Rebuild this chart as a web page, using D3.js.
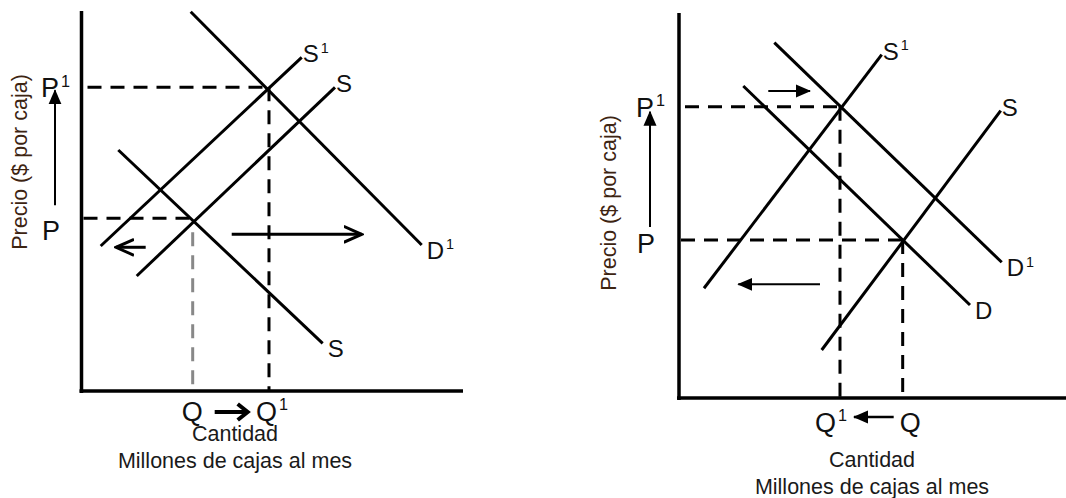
<!DOCTYPE html>
<html>
<head>
<meta charset="utf-8">
<script src="https://cdn.jsdelivr.net/npm/d3@7"></script>
<style>
  body { margin: 0; background: #fff; }
  svg { display: block; font-family: "Liberation Sans", Arial, sans-serif; }
</style>
</head>
<body>
<svg id="chart" width="1066" height="498"></svg>
<script>
// ---- left panel: supply falls, demand rises ----
const leftCurveNames = ["S", "S", "D", "S"];
const leftCurveSups = ["1", "", "1", ""];
const leftCurveStart = [[0.505, 3.816], [1.453, 3.026], [2.874, 9.982], [0.968, 6.342]];
const leftCurveEnd = [[5.795, 8.782], [6.671, 7.992], [8.953, 3.842], [6.347, 1.255]];
const leftPrices = [4.545, 7.992];      // P, P1
const leftQuantities = [2.926, 4.934];  // Q, Q1
const leftShiftFrom = [[3.953, 4.124], [1.689, 3.782]];
const leftShiftTo = [[7.374, 4.124], [0.908, 3.782]];

// ---- right panel: supply falls more than demand rises ----
const rightCurveNames = ["S", "D", "D", "S"];
const rightCurveSups = ["1", "1", "", ""];
const rightCurveStart = [[0.646, 2.85], [2.463, 9.229], [1.661, 8.104], [3.687, 1.247]];
const rightCurveEnd = [[5.238, 8.92], [8.339, 3.525], [7.519, 2.416], [8.313, 7.462]];
const rightPrices = [4.104, 7.566];
const rightQuantities = [5.78, 4.16];   // Q, Q1
const rightShiftFrom = [[2.307, 7.974], [3.643, 2.953]];
const rightShiftTo = [[3.385, 7.974], [1.532, 2.953]];

const yTitle = "Precio ($ por caja)";
const xTitle = ["Cantidad", "Millones de cajas al mes"];

const svg = d3.select("#chart");
const defs = svg.append("defs");

defs.append("marker")
    .attr("id", "open").attr("viewBox", "0 -10 20 20")
    .attr("refX", 18).attr("refY", 0)
    .attr("markerWidth", 20).attr("markerHeight", 20)
    .attr("markerUnits", "userSpaceOnUse").attr("orient", "auto")
    .append("path").attr("d", "M0,-8L18,0L0,8")
    .attr("fill", "none").attr("stroke", "#000").attr("stroke-width", 3);

defs.append("marker")
    .attr("id", "solid").attr("viewBox", "0 -7 15 14")
    .attr("refX", 14).attr("refY", 0)
    .attr("markerWidth", 15).attr("markerHeight", 14)
    .attr("markerUnits", "userSpaceOnUse").attr("orient", "auto")
    .append("path").attr("d", "M0,-6.5L15,0L0,6.5Z").attr("fill", "#000");

function label(g, x, y, base, sup, size) {
    const t = g.append("text").attr("x", x).attr("y", y)
        .attr("font-size", size).attr("fill", "#111").text(base);
    if (sup) t.append("tspan").attr("font-size", size * 0.6).attr("dx", 2).attr("dy", -size * 0.4).text(sup);
    return t;
}

function drawPanel(cfg) {
    const x = d3.scaleLinear().domain([0, 10]).range(cfg.xRange);
    const y = d3.scaleLinear().domain([0, 10]).range(cfg.yRange);
    const g = svg.append("g");

    // axes
    g.append("line")
        .attr("x1", x(0)).attr("x2", x(0)).attr("y1", y(10)).attr("y2", y(0) + 2)
        .attr("stroke", "#000").attr("stroke-width", 3.5);
    g.append("line")
        .attr("x1", x(0) - 2).attr("x2", cfg.xAxisEnd).attr("y1", y(0)).attr("y2", y(0))
        .attr("stroke", "#000").attr("stroke-width", 3.5);

    // dashed guides
    const [pLow, pHigh] = cfg.prices;
    const dash = "14,9";
    g.append("line").attr("x1", x(0) + 6).attr("x2", x(cfg.highQ)).attr("y1", y(pHigh)).attr("y2", y(pHigh))
        .attr("stroke", "#000").attr("stroke-width", 3).attr("stroke-dasharray", dash);
    g.append("line").attr("x1", x(0) + 2).attr("x2", x(cfg.lowQ)).attr("y1", y(pLow)).attr("y2", y(pLow))
        .attr("stroke", "#000").attr("stroke-width", 3).attr("stroke-dasharray", dash);
    g.append("line").attr("x1", x(cfg.highQ)).attr("x2", x(cfg.highQ)).attr("y1", y(pHigh)).attr("y2", y(0))
        .attr("stroke", "#000").attr("stroke-width", 3).attr("stroke-dasharray", dash);
    g.append("line").attr("x1", x(cfg.lowQ)).attr("x2", x(cfg.lowQ))
        .attr("y1", y(pLow) + cfg.lowQGap).attr("y2", y(0))
        .attr("stroke", cfg.lowQColor).attr("stroke-width", 3).attr("stroke-dasharray", dash);

    // curves
    const curves = cfg.names.map((n, i) => ({ n, s: cfg.sups[i], a: cfg.start[i], b: cfg.end[i] }));
    g.selectAll(".curve").data(curves).join("line").attr("class", "curve")
        .attr("x1", d => x(d.a[0])).attr("y1", d => y(d.a[1]))
        .attr("x2", d => x(d.b[0])).attr("y2", d => y(d.b[1]))
        .attr("stroke", "#000").attr("stroke-width", 3);
    curves.forEach(d => {
        const up = d.b[1] > d.a[1];
        label(g, x(d.b[0]) + (up ? 1 : 5), y(d.b[1]) + (up ? 5 : 14), d.n, d.s, 24);
    });

    // shift arrows
    cfg.shiftFrom.forEach((f, i) => {
        g.append("line")
            .attr("x1", x(f[0])).attr("y1", y(f[1]))
            .attr("x2", x(cfg.shiftTo[i][0])).attr("y2", y(cfg.shiftTo[i][1]))
            .attr("stroke", "#000").attr("stroke-width", cfg.shiftWidth)
            .attr("marker-end", `url(#${cfg.shiftMarker})`);
    });

    // price labels and arrow
    label(g, cfg.pLabelX, y(pHigh) + cfg.p1dy, "P", "1", 27);
    label(g, cfg.pLabelX + 1, y(pLow) + cfg.pdy, "P", "", 27);
    g.append("line")
        .attr("x1", cfg.pArrowX).attr("x2", cfg.pArrowX)
        .attr("y1", y(pLow) - cfg.pArrowBottom).attr("y2", y(pHigh) + cfg.pArrowTop)
        .attr("stroke", "#000").attr("stroke-width", 2)
        .attr("marker-end", "url(#solid)");

    // quantity labels
    const qy = y(0) + cfg.qdy;
    cfg.qLabels.forEach((q, i) => {
        label(g, x(cfg.quantities[i]) + q.dx, qy, "Q", q.sup, 27);
    });
    cfg.qArrow(g, x, qy);

    // axis titles
    g.append("text")
        .attr("transform", `translate(${cfg.yTitleX},${cfg.yTitleY}) rotate(-90)`)
        .attr("text-anchor", "middle").attr("font-size", 21.5).attr("fill", "#3d2412")
        .text(yTitle);
    xTitle.forEach((t, i) => {
        g.append("text").attr("x", cfg.xTitleX).attr("y", cfg.xTitleY[i])
            .attr("text-anchor", "middle").attr("font-size", 21.5).attr("fill", "#1a1a1a")
            .text(t);
    });
}

drawPanel({
    xRange: [81.5, 461.5], yRange: [391, 11], xAxisEnd: 463,
    names: leftCurveNames, sups: leftCurveSups, start: leftCurveStart, end: leftCurveEnd,
    prices: leftPrices, quantities: leftQuantities,
    lowQ: leftQuantities[0], highQ: leftQuantities[1], lowQGap: 14, lowQColor: "#888",
    shiftFrom: leftShiftFrom, shiftTo: leftShiftTo, shiftMarker: "open", shiftWidth: 3,
    pLabelX: 41, p1dy: 10, pdy: 22, pArrowX: 55, pArrowBottom: 13, pArrowTop: 3,
    qdy: 30, qLabels: [{ dx: -11, sup: "" }, { dx: -13, sup: "1" }],
    qArrow: (g, x, qy) => {
        const x0 = x(leftQuantities[0]), y0 = qy - 9;
        g.append("path")
            .attr("d", `M${x0 + 22},${y0}H${x0 + 55}M${x0 + 45},${y0 - 8}L${x0 + 55},${y0}L${x0 + 45},${y0 + 8}`)
            .attr("fill", "none").attr("stroke", "#000").attr("stroke-width", 4);
    },
    yTitleX: 27, yTitleY: 162, xTitleX: 235, xTitleY: [441, 468]
});

drawPanel({
    xRange: [679, 1066], yRange: [398, 13], xAxisEnd: 1066,
    names: rightCurveNames, sups: rightCurveSups, start: rightCurveStart, end: rightCurveEnd,
    prices: rightPrices, quantities: rightQuantities,
    lowQ: rightQuantities[0], highQ: rightQuantities[1], lowQGap: 0, lowQColor: "#000",
    shiftFrom: rightShiftFrom, shiftTo: rightShiftTo, shiftMarker: "solid", shiftWidth: 2,
    pLabelX: 636, p1dy: 10, pdy: 13, pArrowX: 650, pArrowBottom: 13, pArrowTop: 5,
    qdy: 34, qLabels: [{ dx: -3, sup: "" }, { dx: -25, sup: "1" }],
    qArrow: (g, x, qy) => {
        const y0 = qy - 15;
        g.append("line")
            .attr("x1", x(rightQuantities[0]) - 9).attr("x2", x(rightQuantities[1]) + 14)
            .attr("y1", y0).attr("y2", y0)
            .attr("stroke", "#000").attr("stroke-width", 2.5)
            .attr("marker-end", "url(#solid)");
    },
    yTitleX: 616, yTitleY: 203, xTitleX: 872, xTitleY: [467, 494]
});
</script>
</body>
</html>
